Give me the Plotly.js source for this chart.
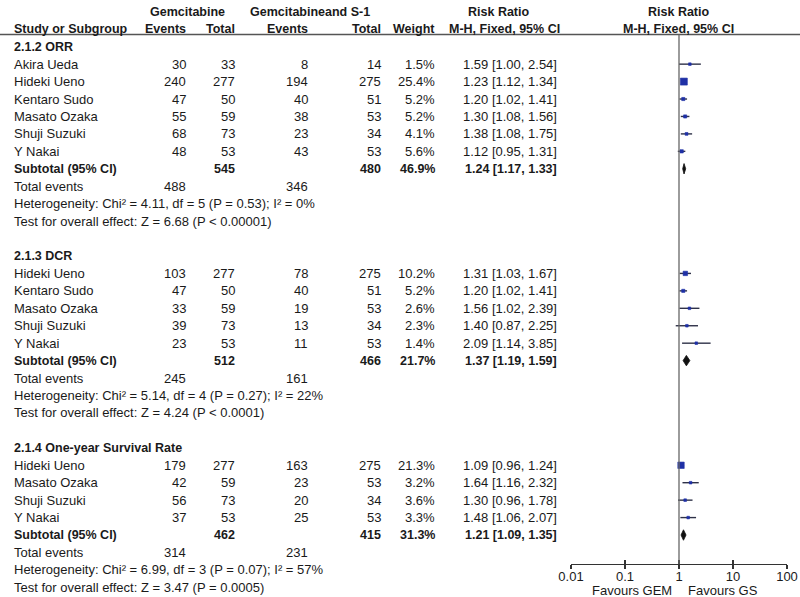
<!DOCTYPE html>
<html>
<head>
<meta charset="utf-8">
<script src="https://cdn.plot.ly/plotly-3.0.1.min.js"></script>
<style>html,body{margin:0;padding:0;background:#fff;}#chart{width:800px;height:597px;}</style>
</head>
<body>
<div id="chart"></div>
<script>
// ---------- data ----------
const groupNames = ["2.1.2 ORR", "2.1.3 DCR", "2.1.4 One-year Survival Rate"];
const studyNames = ["Akira Ueda", "Hideki Ueno", "Kentaro Sudo", "Masato Ozaka", "Shuji Suzuki", "Y Nakai",
                    "Hideki Ueno", "Kentaro Sudo", "Masato Ozaka", "Shuji Suzuki", "Y Nakai",
                    "Hideki Ueno", "Masato Ozaka", "Shuji Suzuki", "Y Nakai"];
const studyGroup = [0,0,0,0,0,0, 1,1,1,1,1, 2,2,2,2];
const gemEvents = [30,240,47,55,68,48, 103,47,33,39,23, 179,42,56,37];
const gemTotal  = [33,277,50,59,73,53, 277,50,59,73,53, 277,59,73,53];
const gsEvents  = [8,194,40,38,23,43, 78,40,19,13,11, 163,23,20,25];
const gsTotal   = [14,275,51,53,34,53, 275,51,53,34,53, 275,53,34,53];
const weights   = [1.5,25.4,5.2,5.2,4.1,5.6, 10.2,5.2,2.6,2.3,1.4, 21.3,3.2,3.6,3.3];
const rr        = [1.59,1.23,1.20,1.30,1.38,1.12, 1.31,1.20,1.56,1.40,2.09, 1.09,1.64,1.30,1.48];
const rrLo      = [1.00,1.12,1.02,1.08,1.08,0.95, 1.03,1.02,1.02,0.87,1.14, 0.96,1.16,0.96,1.06];
const rrHi      = [2.54,1.34,1.41,1.56,1.75,1.31, 1.67,1.41,2.39,2.25,3.85, 1.24,2.32,1.78,2.07];

const subGemTotal = [545, 512, 462];
const subGsTotal  = [480, 466, 415];
const subWeight   = [46.9, 21.7, 31.3];
const subRR       = [1.24, 1.37, 1.21];
const subLo       = [1.17, 1.19, 1.09];
const subHi       = [1.33, 1.59, 1.35];
const totGemEvents = [488, 245, 314];
const totGsEvents  = [346, 161, 231];
const heterogeneity = ["Chi² = 4.11, df = 5 (P = 0.53); I² = 0%",
                       "Chi² = 5.14, df = 4 (P = 0.27); I² = 22%",
                       "Chi² = 6.99, df = 3 (P = 0.07); I² = 57%"];
const overallEffect = ["Z = 6.68 (P < 0.00001)", "Z = 4.24 (P < 0.0001)", "Z = 3.47 (P = 0.0005)"];
const axisTicks = [0.01, 0.1, 1, 10, 100];
const axisTickText = ["0.01", "0.1", "1", "10", "100"];

// ---------- layout helpers ----------
const W = 800, H = 597;
const row0Px = 46.7, rowH = 17.44;
const yTop = -row0Px / rowH, yBot = yTop + H / rowH;
const axisPx = 564;
const axisPos = (H - axisPx) / H;
const headerLineRow = yTop + 34.5 / rowH;
const FONT = "Liberation Sans, Arial, sans-serif";
const TXT = "#1a1a1a";
const FS = 13, FSB = 12.5;

const col = { name: 12, gemEv: 188, gemTot: 237, gsEv: 310, gsTot: 383, weight: 437, rr: 559 };
const annotations = [];
function txt(text, px, row, anchor, bold) {
  annotations.push({
    text: bold ? "<b>" + text + "</b>" : text,
    xref: "paper", yref: "y", x: px / W, y: row,
    xanchor: anchor, yanchor: "middle", showarrow: false,
    font: { family: FONT, size: bold ? FSB : FS, color: TXT }
  });
}
const f2 = v => v.toFixed(2);
const ciText = (r, l, h) => f2(r) + " [" + f2(l) + ", " + f2(h) + "]";

// headers
txt("Gemcitabine", 187, -2, "center", true);
txt("Gemcitabineand S-1", 310, -2, "center", true);
txt("Risk Ratio", 498, -2, "center", true);
txt("Risk Ratio", 678, -2, "center", true);
txt("Study or Subgroup", col.name, -1, "left", true);
txt("Events", col.gemEv, -1, "right", true);
txt("Total", col.gemTot, -1, "right", true);
txt("Events", col.gsEv, -1, "right", true);
txt("Total", col.gsTot, -1, "right", true);
txt("Weight", col.weight, -1, "right", true);
txt("M-H, Fixed, 95% CI", 504, -1, "center", true);
txt("M-H, Fixed, 95% CI", 678, -1, "center", true);

// rows
const studyRows = [];
const subRows = [];
let row = 0;
groupNames.forEach((g, gi) => {
  txt(g, col.name, row, "left", true);
  row++;
  studyNames.forEach((n, i) => {
    if (studyGroup[i] !== gi) return;
    studyRows[i] = row;
    txt(n, col.name, row, "left");
    txt(String(gemEvents[i]), col.gemEv, row, "right");
    txt(String(gemTotal[i]), col.gemTot, row, "right");
    txt(String(gsEvents[i]), col.gsEv, row, "right");
    txt(String(gsTotal[i]), col.gsTot, row, "right");
    txt(weights[i].toFixed(1) + "%", col.weight, row, "right");
    txt(ciText(rr[i], rrLo[i], rrHi[i]), col.rr, row, "right");
    row++;
  });
  subRows[gi] = row;
  txt("Subtotal (95% CI)", col.name, row, "left", true);
  txt(String(subGemTotal[gi]), col.gemTot, row, "right", true);
  txt(String(subGsTotal[gi]), col.gsTot, row, "right", true);
  txt(subWeight[gi].toFixed(1) + "%", col.weight, row, "right", true);
  txt(ciText(subRR[gi], subLo[gi], subHi[gi]), col.rr, row, "right", true);
  row++;
  txt("Total events", col.name, row, "left");
  txt(String(totGemEvents[gi]), col.gemEv, row, "right");
  txt(String(totGsEvents[gi]), col.gsEv, row, "right");
  row++;
  txt("Heterogeneity: " + heterogeneity[gi], col.name, row, "left");
  row++;
  txt("Test for overall effect: " + overallEffect[gi], col.name, row, "left");
  row += 2;
});

// favours labels
annotations.push({ text: "Favours GEM", xref: "paper", yref: "paper", x: 674 / W, y: (H - 590) / H,
  xanchor: "right", yanchor: "middle", showarrow: false, font: { family: FONT, size: FS, color: TXT } });
annotations.push({ text: "Favours GS", xref: "paper", yref: "paper", x: 686 / W, y: (H - 590) / H,
  xanchor: "left", yanchor: "middle", showarrow: false, font: { family: FONT, size: FS, color: TXT } });

// ---------- traces ----------
const ciX = [], ciY = [];
rr.forEach((v, i) => { ciX.push(rrLo[i], rrHi[i], null); ciY.push(studyRows[i], studyRows[i], null); });
const traces = [
  { type: "scatter", mode: "lines", x: ciX, y: ciY, line: { color: "#2e3148", width: 1.4 }, hoverinfo: "skip" },
  { type: "scatter", mode: "markers", x: rr, y: studyRows,
    marker: { symbol: "square", color: "#1f30a6", opacity: 1,
      size: weights.map(w => Math.max(2.6, 7 * Math.sqrt(w / 25.4))),
      line: { width: 0.6, color: "#1f30a6" } },
    hoverinfo: "skip" }
];
subRR.forEach((v, gi) => {
  const r = subRows[gi], h = 0.3;
  traces.push({ type: "scatter", mode: "lines", fill: "toself", fillcolor: "#111",
    x: [subLo[gi], v, subHi[gi], v, subLo[gi]], y: [r, r - h, r, r + h, r],
    line: { color: "#111", width: 0.8 }, hoverinfo: "skip" });
});
traces.push({ type: "scatter", mode: "markers", x: [1], y: [0], xaxis: "x2", marker: { opacity: 0 }, hoverinfo: "skip" });

const xDomain = [571 / W, 787 / W];
const layout = {
  width: W, height: H,
  margin: { l: 0, r: 0, t: 0, b: 0 },
  paper_bgcolor: "#fff", plot_bgcolor: "rgba(0,0,0,0)",
  showlegend: false,
  xaxis: { type: "log", range: [-2, 2], domain: xDomain, anchor: "free", position: axisPos,
    showline: true, linecolor: "#333", linewidth: 1.2, ticks: "inside", ticklen: 4, tickcolor: "#333", tickwidth: 1.2,
    tickvals: axisTicks, ticktext: axisTickText, showgrid: false, zeroline: false,
    tickfont: { family: FONT, size: FS, color: TXT }, fixedrange: true },
  xaxis2: { type: "log", range: [-2, 2], domain: xDomain, anchor: "free", position: axisPos, overlaying: "x",
    showline: false, ticks: "outside", ticklen: 4, tickcolor: "#333", tickwidth: 1.2,
    tickvals: axisTicks, showticklabels: false, showgrid: false, zeroline: false },
  yaxis: { range: [yBot, yTop], domain: [0, 1], visible: false, fixedrange: true },
  shapes: [
    { type: "line", xref: "paper", yref: "y", x0: 0, x1: 1, y0: headerLineRow, y1: headerLineRow,
      line: { color: "#555", width: 1.5 } },
    { type: "line", xref: "x", yref: "paper", x0: 1, x1: 1, y0: axisPos, y1: (H - 34.5) / H,
      line: { color: "#666", width: 1.3 } }
  ],
  annotations: annotations
};
Plotly.newPlot("chart", traces, layout, { staticPlot: true, displayModeBar: false });
</script>
</body>
</html>
